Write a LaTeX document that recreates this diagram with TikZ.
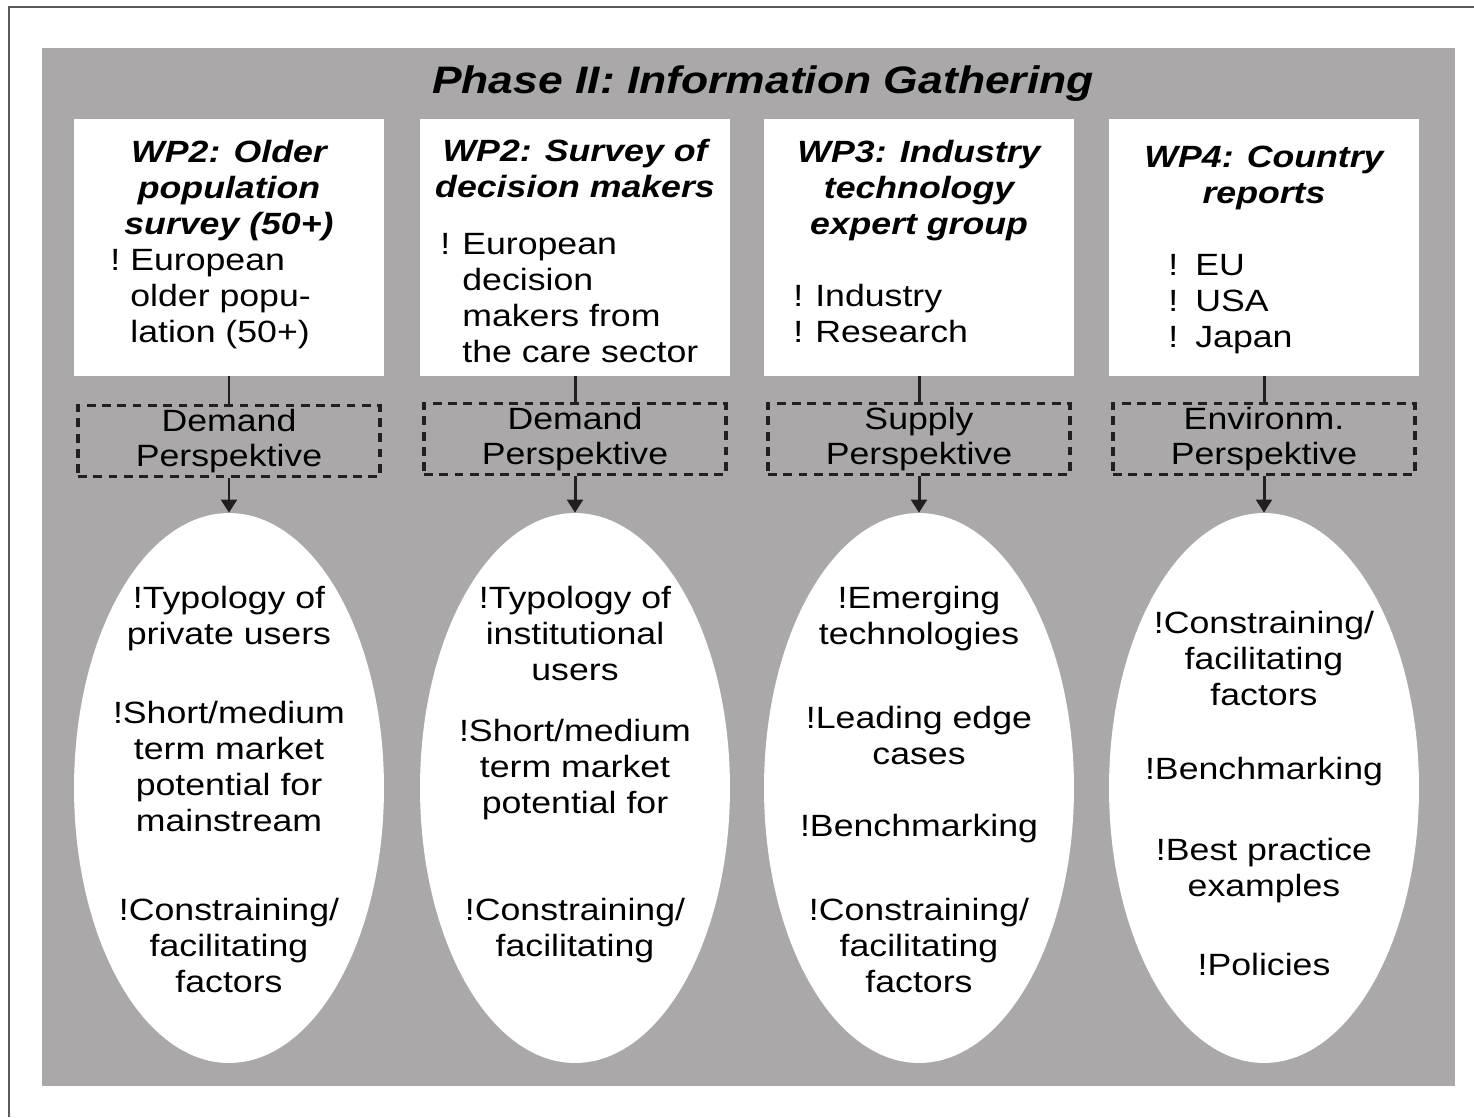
\documentclass[tikz,border=0pt]{standalone}
\definecolor{panelgray}{RGB}{170,168,169}
\definecolor{inkblack}{RGB}{35,31,32}
\definecolor{framegray}{RGB}{90,90,90}
\usepackage{fontspec}
\setmainfont{Liberation Sans}[FakeStretch=1.16]
\usepackage{tikz}
\usetikzlibrary{shapes,arrows.meta,positioning}

\newcommand{\wpbullet}[1]{\makebox[#1][l]{!}}

\tikzset{
  wpbox/.style={fill=white, minimum width=6.22cm, minimum height=5.14cm, inner sep=0pt},
  wptitle/.style={font=\fontsize{17.5}{20.4}\selectfont\bfseries\itshape, align=center, anchor=base, inner sep=0pt},
  wplist/.style={font=\fontsize{17.5}{20.4}\selectfont, align=left, anchor=base west, inner sep=0pt},
  perspbox/.style={draw=inkblack, line width=2.2pt, dash pattern=on 5pt off 3.7pt,
    minimum width=6.04cm, minimum height=1.42cm, inner sep=0pt, align=center,
    font=\fontsize{17.5}{20.4}\selectfont},
  resultell/.style={ellipse, fill=white, minimum width=6.2cm, minimum height=11cm, inner sep=0pt},
  resulttxt/.style={font=\fontsize{17.5}{20.4}\selectfont, align=center, anchor=base, inner sep=0pt},
  link/.style={draw=inkblack, line width=1.7pt},
  flow/.style={link, -{Triangle[width=9pt,length=7.5pt]}}
}

\begin{document}
\begin{tikzpicture}[x=0.02cm, y=-0.02cm]
                \useasboundingbox (0,0) rectangle (1474,1117);
                % Frame and panel
                \draw[framegray, line width=0.6pt] (9,1117) -- (9,7) -- (1474,7);
                \fill[panelgray] (42,48) rectangle (1455,1086);
                \node[font=\fontsize{21.8}{26}\selectfont\bfseries\itshape, anchor=base, inner sep=0pt] (phase) at (763,93) {Phase II: Information Gathering};
                
                % Work packages (base = last line)
                \node[wpbox] (b1) at (229,247.5) {};
                \node[wptitle] (t1) at (229,234) {WP2: Older\\population\\survey (50+)};
                \node[wplist] (l1) at (110,342) {\wpbullet{0.4cm}European\\\hspace*{0.4cm}older popu-\\\hspace*{0.4cm}lation (50+)};
                
                \node[wpbox] (b2) at (575,247.5) {};
                \node[wptitle] (t2) at (575,197) {WP2: Survey of\\decision makers};
                \node[wplist] (l2) at (440,362) {\wpbullet{0.44cm}European\\\hspace*{0.44cm}decision\\\hspace*{0.44cm}makers from\\\hspace*{0.44cm}the care sector};
                
                \node[wpbox] (b3) at (919,247.5) {};
                \node[wptitle] (t3) at (919,234) {WP3: Industry\\technology\\expert group};
                \node[wplist] (l3) at (793,342) {\wpbullet{0.44cm}Industry\\\wpbullet{0.44cm}Research};
                
                \node[wpbox] (b4) at (1264,247.5) {};
                \node[wptitle] (t4) at (1264,203) {WP4: Country\\reports};
                \node[wplist] (l4) at (1168,347) {\wpbullet{0.54cm}EU\\\wpbullet{0.54cm}USA\\\wpbullet{0.54cm}Japan};
                
                % Perspectives
                \node[perspbox] (d1) at (229,441) {Demand\\Perspektive};
                \node[perspbox] (d2) at (575,439) {Demand\\Perspektive};
                \node[perspbox] (d3) at (919,439) {Supply\\Perspektive};
                \node[perspbox] (d4) at (1264,439) {Environm.\\Perspektive};
                
                % Results
                \node[resultell] (e1) at (229,788) {};
                \node[resulttxt] (e1a) at (229,644) {!Typology of\\private users};
                \node[resulttxt] (e1b) at (229,831) {!Short/medium\\term market\\potential for\\mainstream};
                \node[resulttxt] (e1c) at (229,992) {!Constraining/\\facilitating\\factors};
                
                \node[resultell] (e2) at (575,788) {};
                \node[resulttxt] (e2a) at (575,680) {!Typology of\\institutional\\users};
                \node[resulttxt] (e2b) at (575,813) {!Short/medium\\term market\\potential for};
                \node[resulttxt] (e2c) at (575,956) {!Constraining/\\facilitating};
                
                \node[resultell] (e3) at (919,788) {};
                \node[resulttxt] (e3a) at (919,644) {!Emerging\\technologies};
                \node[resulttxt] (e3b) at (919,764) {!Leading edge\\cases};
                \node[resulttxt] (e3c) at (919,836) {!Benchmarking};
                \node[resulttxt] (e3d) at (919,992) {!Constraining/\\facilitating\\factors};
                
                \node[resultell] (e4) at (1264,788) {};
                \node[resulttxt] (e4a) at (1264,705) {!Constraining/\\facilitating\\factors};
                \node[resulttxt] (e4b) at (1264,779) {!Benchmarking};
                \node[resulttxt] (e4c) at (1264,896) {!Best practice\\examples};
                \node[resulttxt] (e4d) at (1264,975) {!Policies};
                
                % Connectors
                \draw[link] (b1.south) -- (d1.north);
                \draw[link] (b2.south) -- (d2.north);
                \draw[link] (b3.south) -- (d3.north);
                \draw[link] (b4.south) -- (d4.north);
                \draw[flow] (d1.south) -- (e1.north);
                \draw[flow] (d2.south) -- (e2.north);
                \draw[flow] (d3.south) -- (e3.north);
                \draw[flow] (d4.south) -- (e4.north);
            \end{tikzpicture}
\end{document}
